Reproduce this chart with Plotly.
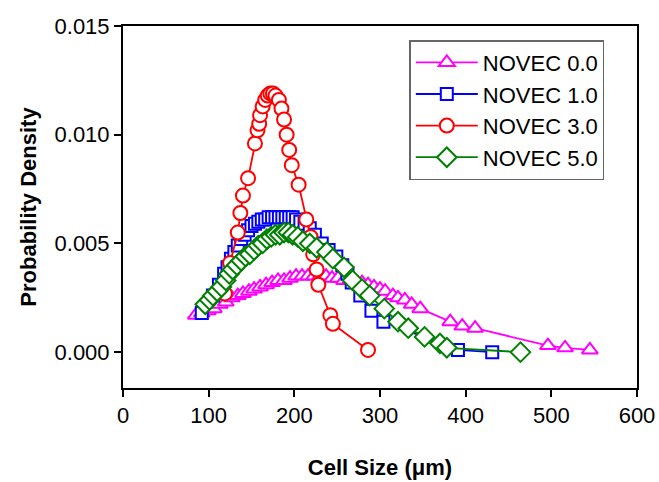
import plotly.graph_objects as go

# NOVEC 0.0
x0 = [85, 92, 99, 106, 113, 120, 127, 134, 140, 147, 153, 160, 167, 174, 181, 188, 195, 202, 209, 216,
      223, 230, 237, 244, 251, 258, 265, 272, 279, 286, 293, 300, 306, 315, 321, 329, 337, 347, 382,
      396, 411, 496, 516, 545]
y0 = [0.0017, 0.0018, 0.0019, 0.0020, 0.0022, 0.0023, 0.0025, 0.0026, 0.0027, 0.0028, 0.0029, 0.0030,
      0.0031, 0.0032, 0.0033, 0.0033, 0.0034, 0.0035, 0.0035, 0.0035, 0.0035, 0.0035, 0.0035, 0.0034,
      0.0034, 0.0033, 0.0033, 0.0032, 0.0032, 0.0031, 0.0030, 0.0029, 0.0028, 0.0026, 0.0025, 0.0024,
      0.0022, 0.0020, 0.0014, 0.0012, 0.0011, 0.0003, 0.0002, 0.0001]

# NOVEC 1.0
x1 = [92, 105, 112, 118, 122, 126, 130, 134, 138, 142, 146, 150, 154, 158, 162, 166, 170, 174, 178, 182,
      186, 190, 194, 198, 202, 207, 212, 218, 224, 232, 240, 249, 256, 262, 267, 277, 290, 304, 391, 431]
y1 = [0.0018, 0.0026, 0.0031, 0.0036, 0.0039, 0.0043, 0.0046, 0.0049, 0.0052, 0.0054, 0.0056, 0.0058,
      0.0059, 0.0060, 0.0061, 0.0061, 0.0062, 0.0062, 0.0062, 0.0062, 0.0062, 0.0062, 0.0062, 0.0062,
      0.0061, 0.0060, 0.0059, 0.0057, 0.0054, 0.0050, 0.0047, 0.0044, 0.0040, 0.0036, 0.0032, 0.0026,
      0.0019, 0.0014, 0.0001, 0.0000]

# NOVEC 3.0
x3 = [119, 125, 134, 137, 140, 146, 154, 157, 159, 160, 163, 166, 169, 172, 175, 178, 182, 185, 188,
      191, 194, 197, 205, 214, 219, 222, 226, 228, 242, 245, 286]
y3 = [0.0027, 0.0041, 0.0055, 0.0064, 0.0072, 0.0080, 0.0096, 0.0102, 0.0105, 0.0109, 0.0113, 0.0116,
      0.0118, 0.0119, 0.0119, 0.0118, 0.0116, 0.0112, 0.0107, 0.0100, 0.0093, 0.0086, 0.0077, 0.0061,
      0.0053, 0.0045, 0.0038, 0.0031, 0.0017, 0.0013, 0.0001]

# NOVEC 5.0
x5 = [96, 101, 105, 110, 115, 120, 124, 128, 133, 138, 143, 148, 153, 158, 163, 168, 173, 178, 183, 188,
      193, 198, 204, 210, 218, 226, 238, 245, 258, 268, 279, 288, 305, 321, 333, 352, 370, 378, 464]
y5 = [0.0022, 0.0024, 0.0026, 0.0028, 0.0030, 0.0033, 0.0036, 0.0038, 0.0040, 0.0042, 0.0044, 0.0045,
      0.0047, 0.0049, 0.0050, 0.0052, 0.0053, 0.0054, 0.0054, 0.0055, 0.0055, 0.0054, 0.0053, 0.0051,
      0.0050, 0.0048, 0.0046, 0.0043, 0.0039, 0.0033, 0.0029, 0.0026, 0.0020, 0.0014, 0.0011, 0.0007,
      0.0004, 0.0002, 0.0000]

series = [
    ("NOVEC 0.0", x0, y0, "#FF00FF", "triangle-up", 14),
    ("NOVEC 1.0", x1, y1, "#0000FF", "square", 12),
    ("NOVEC 3.0", x3, y3, "#FF0000", "circle", 14),
    ("NOVEC 5.0", x5, y5, "#008000", "diamond", 15),
]

fig = go.Figure()
for name, xs, ys, col, sym, sz in series:
    fig.add_trace(go.Scatter(
        x=xs, y=ys, name=name, mode="lines+markers",
        line=dict(color=col, width=1.8),
        marker=dict(symbol=sym, size=sz, color="white", line=dict(color=col, width=2)),
    ))

font = "Liberation Sans, Arial, sans-serif"
fig.update_layout(
    width=659, height=482,
    margin=dict(l=123, r=22, t=26, b=94),
    paper_bgcolor="white", plot_bgcolor="white",
    font=dict(family=font, size=22, color="black"),
    showlegend=True,
    legend=dict(x=0.557, y=0.961, xanchor="left", yanchor="top",
                bordercolor="#666666", borderwidth=1.5, bgcolor="white",
                font=dict(size=22), tracegroupgap=0, itemwidth=62),
    xaxis=dict(range=[0, 600], tickvals=[0, 100, 200, 300, 400, 500, 600], automargin=False,
               showline=True, linecolor="black", linewidth=2, mirror=True,
               ticks="outside", ticklen=7, tickwidth=1.5, tickcolor="black",
               showgrid=False, zeroline=False,
               title=dict(text="<b>Cell Size (μm)</b>", font=dict(size=22), standoff=32)),
    yaxis=dict(range=[-0.00165, 0.015], tickvals=[0, 0.005, 0.010, 0.015], tickformat=".3f",
               automargin=False,
               showline=True, linecolor="black", linewidth=2, mirror=True,
               ticks="outside", ticklen=7, tickwidth=1.5, tickcolor="black",
               showgrid=False, zeroline=False,
               title=dict(text="<b>Probability Density</b>", font=dict(size=22), standoff=12)),
)

fig.write_html("out.html")
